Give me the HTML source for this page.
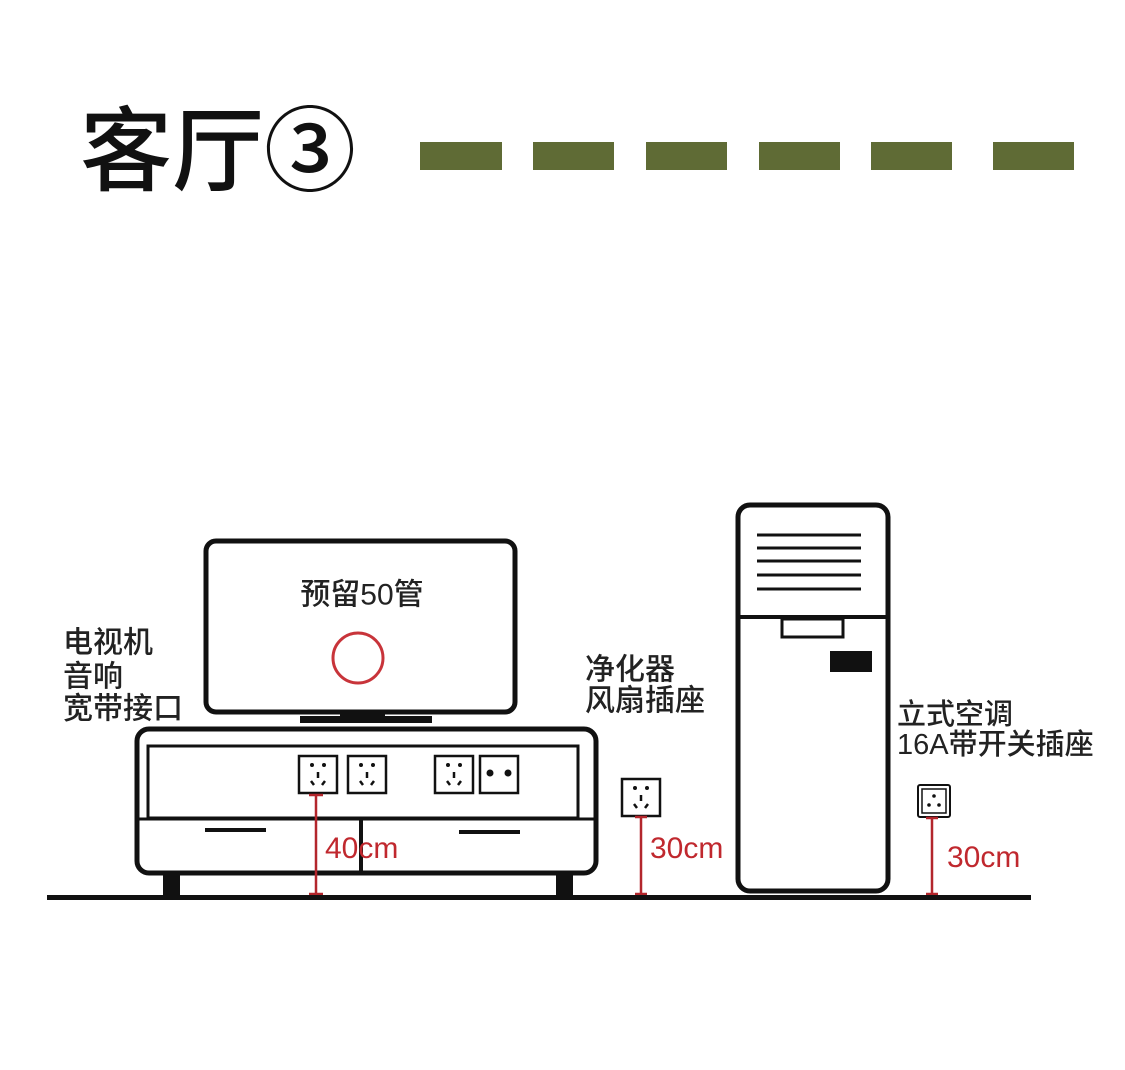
<!DOCTYPE html>
<html><head><meta charset="utf-8"><style>
html,body{margin:0;padding:0;background:#fff;}
svg{display:block;}
text{font-family:"Liberation Sans","Noto Sans CJK SC",sans-serif;}
</style></head><body>
<svg width="1125" height="1070" viewBox="0 0 1125 1070" xmlns="http://www.w3.org/2000/svg">
<defs>
<g id="s5">
<rect x="0" y="0" width="38" height="37" fill="#fff" stroke="#111" stroke-width="2.5"/>
<circle cx="13" cy="9" r="2" fill="#111"/><circle cx="25" cy="9" r="2" fill="#111"/>
<line x1="19" y1="16" x2="19" y2="22" stroke="#111" stroke-width="2.5"/>
<line x1="12" y1="25" x2="15" y2="29" stroke="#111" stroke-width="2.5"/>
<line x1="26" y1="25" x2="23" y2="29" stroke="#111" stroke-width="2.5"/>
</g>
</defs>
<text x="80" y="144" font-size="92" font-weight="500" dominant-baseline="central" fill="#111" style="font-family:'Noto Sans CJK SC',sans-serif">客厅③</text>
<g fill="#5f6b35">
<rect x="420" y="142" width="82" height="28"/><rect x="533" y="142" width="81" height="28"/>
<rect x="646" y="142" width="81" height="28"/><rect x="759" y="142" width="81" height="28"/>
<rect x="871" y="142" width="81" height="28"/><rect x="993" y="142" width="81" height="28"/>
</g>
<!-- TV -->
<rect x="206" y="541" width="309" height="171" rx="10" fill="#fff" stroke="#111" stroke-width="5"/>
<text x="362" y="595" font-size="30" font-weight="500" text-anchor="middle" dominant-baseline="central" fill="#222">预留50管</text>
<circle cx="358" cy="658" r="25" fill="none" stroke="#c8343a" stroke-width="3"/>
<rect x="340" y="712" width="45" height="8" fill="#111"/>
<rect x="300" y="716" width="132" height="7" fill="#111"/>
<!-- cabinet -->
<rect x="137" y="729" width="459" height="144" rx="12" fill="#fff" stroke="#111" stroke-width="5"/>
<rect x="148" y="746" width="430" height="72" fill="none" stroke="#111" stroke-width="3"/>
<line x1="137" y1="819" x2="594" y2="819" stroke="#111" stroke-width="3"/>
<line x1="361" y1="819" x2="361" y2="872" stroke="#111" stroke-width="4"/>
<line x1="205" y1="830" x2="266" y2="830" stroke="#111" stroke-width="4"/>
<line x1="459" y1="832" x2="520" y2="832" stroke="#111" stroke-width="4"/>
<rect x="163" y="872" width="17" height="23" fill="#111"/>
<rect x="556" y="872" width="17" height="23" fill="#111"/>
<use href="#s5" x="299" y="756"/><use href="#s5" x="348" y="756"/><use href="#s5" x="435" y="756"/>
<rect x="480" y="756" width="38" height="37" fill="#fff" stroke="#111" stroke-width="2.5"/>
<circle cx="490" cy="773" r="3.5" fill="#111"/><circle cx="508" cy="773" r="3.5" fill="#111"/>
<!-- labels -->
<g font-size="30" font-weight="500" fill="#222" dominant-baseline="central">
<text x="63" y="643">电视机</text><text x="63" y="677">音响</text><text x="63" y="709">宽带接口</text>
<text x="585" y="670">净化器</text><text x="585" y="701">风扇插座</text>
<text x="897" y="715" font-size="29">立式空调</text><text x="897" y="745" font-size="29">16A带开关插座</text>
</g>
<!-- AC -->
<rect x="738" y="505" width="150" height="386" rx="12" fill="#fff" stroke="#111" stroke-width="5"/>
<line x1="738" y1="617" x2="888" y2="617" stroke="#111" stroke-width="4"/>
<g stroke="#111" stroke-width="3">
<line x1="757" y1="535" x2="861" y2="535"/><line x1="757" y1="548" x2="861" y2="548"/>
<line x1="757" y1="561" x2="861" y2="561"/><line x1="757" y1="575" x2="861" y2="575"/>
<line x1="757" y1="589" x2="861" y2="589"/>
</g>
<rect x="782" y="619" width="61" height="18" fill="#fff" stroke="#111" stroke-width="3"/>
<rect x="830" y="651" width="42" height="21" fill="#111"/>
<!-- sockets -->
<use href="#s5" x="622" y="779"/>
<rect x="918" y="785" width="32" height="32" rx="2" fill="#fff" stroke="#111" stroke-width="2"/>
<rect x="922" y="789" width="24" height="24" fill="none" stroke="#111" stroke-width="1.5"/>
<circle cx="934" cy="796" r="1.8" fill="#111"/><circle cx="929" cy="805" r="1.8" fill="#111"/><circle cx="939" cy="805" r="1.8" fill="#111"/>
<!-- red dims -->
<g stroke="#b3262c" stroke-width="2.5">
<line x1="316" y1="795" x2="316" y2="895"/><line x1="309" y1="795" x2="323" y2="795"/><line x1="309" y1="894" x2="323" y2="894"/>
<line x1="641" y1="817" x2="641" y2="895"/><line x1="635" y1="817" x2="647" y2="817"/><line x1="635" y1="894" x2="647" y2="894"/>
<line x1="932" y1="818" x2="932" y2="895"/><line x1="926" y1="818" x2="938" y2="818"/><line x1="926" y1="894" x2="938" y2="894"/>
</g>
<g font-size="30" font-weight="500" fill="#c0282e">
<text x="325" y="858">40cm</text><text x="650" y="858">30cm</text><text x="947" y="867">30cm</text>
</g>
<rect x="47" y="895" width="984" height="5" fill="#111"/>
</svg>
</body></html>
